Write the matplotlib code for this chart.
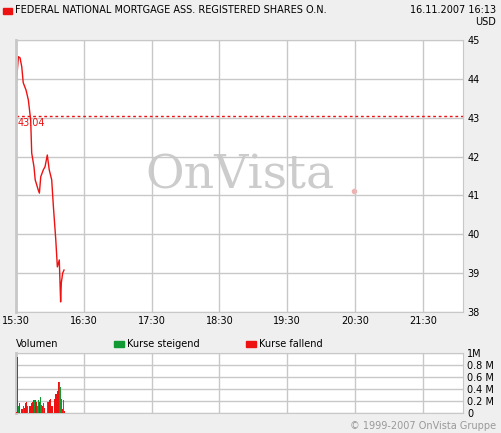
import numpy as np
import matplotlib.pyplot as plt

# Kursverlauf (Minuten ab 15:30, Kurs)
kurs_min = [0.6, 1.2, 2.1, 3.6, 5.1, 6.4, 8.9, 10.9, 13.0, 13.9, 15.9, 17.0, 19.7, 20.7, 21.9,
            24.2, 25.7, 27.7, 29.4, 31.6, 33.1, 35.2, 36.6, 38.3, 39.5, 40.1, 41.3, 42.5]
kurs = [43.97, 44.23, 44.57, 44.54, 44.31, 43.90, 43.71, 43.46, 42.94, 42.09, 41.74, 41.40,
        41.14, 41.06, 41.48, 41.66, 41.74, 42.04, 41.66, 41.40, 40.71, 39.86, 39.16, 39.34,
        38.26, 38.75, 39.00, 39.08]
referenz = 43.04

# Volumen: Minute ab 15:30, Hoehe in Mio., Richtung
vol_min = [0.0, 1.2, 2.1, 3.0, 4.7, 5.6, 6.4, 7.4, 8.2, 9.1, 10.0, 11.8, 12.7, 13.6, 14.5,
           15.3, 16.2, 17.1, 18.0, 18.9, 19.8, 20.6, 21.5, 22.4, 23.3, 24.2, 25.1, 27.7, 28.6,
           29.5, 30.4, 31.3, 32.2, 33.9, 34.8, 35.7, 36.6, 37.5, 38.3, 39.2, 40.1, 41.0, 41.9,
           42.8]
volumen = [0.02, 0.93, 0.11, 0.16, 0.07, 0.07, 0.11, 0.09, 0.16, 0.18, 0.12, 0.12, 0.12, 0.16,
           0.18, 0.21, 0.21, 0.21, 0.18, 0.12, 0.21, 0.18, 0.26, 0.14, 0.12, 0.16, 0.09, 0.19,
           0.18, 0.21, 0.23, 0.11, 0.11, 0.23, 0.32, 0.32, 0.37, 0.51, 0.51, 0.43, 0.24, 0.07,
           0.22, 0.04]
vol_up = "rrgrrrgrrrgrrrrrgrrggrggrgrgrrrrrrrrrrgggrgr"

rot = '#ee1111'
gruen = '#119933'
grid_c = '#c8c8c8'

fig = plt.figure(figsize=(5.01, 4.33), dpi=100, facecolor='#efefef')
W, H = 501, 433
ax = fig.add_axes([16 / W, 1 - 312 / H, 447 / W, 272 / H])
axv = fig.add_axes([16 / W, 1 - 413 / H, 447 / W, 60 / H])

xmax = 447 / 67.8 * 60
ticks = np.arange(0, 420, 60)
labels = ['15:30', '16:30', '17:30', '18:30', '19:30', '20:30', '21:30']

ax.plot(kurs_min, kurs, color=rot, lw=1)
ax.axhline(referenz, color=rot, ls=(0, (2, 2)), lw=1)
ax.text(1, referenz - 0.05, '43.04', color=rot, fontsize=7, va='top')
ax.text(0.5 * xmax, 41.5, 'OnVista', fontsize=34, color='#cccccc', family='DejaVu Serif',
        ha='center', va='center', zorder=0)
ax.plot([0.757 * xmax], [41.12], 'o', ms=3, color='#f0b0b0', zorder=0)
ax.set_xlim(0, xmax)
ax.set_ylim(38, 45)
ax.set_xticks(ticks)
ax.set_xticklabels(labels)
ax.yaxis.tick_right()

farben = [gruen if c == 'g' else rot for c in vol_up]
axv.bar(vol_min, volumen, width=0.7, color=farben, align='edge', zorder=3)
axv.set_xlim(0, xmax)
axv.set_ylim(0, 1)
axv.set_xticks(ticks)
axv.set_xticklabels([])
axv.set_yticks([0, 0.2, 0.4, 0.6, 0.8, 1.0])
axv.set_yticklabels(['0', '0.2 M', '0.4 M', '0.6 M', '0.8 M', '1M'])
axv.yaxis.tick_right()

for a in (ax, axv):
    a.grid(True, color=grid_c, lw=1)
    a.set_axisbelow(True)
    a.tick_params(length=0, labelsize=7, pad=3)
    for s in a.spines.values():
        s.set_color(grid_c)
    a.spines['left'].set_linewidth(2)

fig.patches.append(plt.Rectangle((3 / W, 1 - 14 / H), 9 / W, 6 / H, color=rot,
                                 transform=fig.transFigure))
fig.text(15 / W, 1 - 10 / H, 'FEDERAL NATIONAL MORTGAGE ASS. REGISTERED SHARES O.N.',
         fontsize=7, va='center')
fig.text(496 / W, 1 - 10 / H, '16.11.2007 16:13', fontsize=7, va='center', ha='right')
fig.text(496 / W, 1 - 22 / H, 'USD', fontsize=7, va='center', ha='right')
fig.text(16 / W, 1 - 344 / H, 'Volumen', fontsize=7, va='center')
fig.patches.append(plt.Rectangle((114 / W, 1 - 347 / H), 10 / W, 6 / H, color=gruen,
                                 transform=fig.transFigure))
fig.text(127 / W, 1 - 344 / H, 'Kurse steigend', fontsize=7, va='center')
fig.patches.append(plt.Rectangle((246 / W, 1 - 347 / H), 10 / W, 6 / H, color=rot,
                                 transform=fig.transFigure))
fig.text(259 / W, 1 - 344 / H, 'Kurse fallend', fontsize=7, va='center')
fig.text(496 / W, 1 - 426 / H, '© 1999-2007 OnVista Gruppe', fontsize=7, color='#999999',
         va='center', ha='right')

fig.savefig('out.png', dpi=100, facecolor=fig.get_facecolor())
